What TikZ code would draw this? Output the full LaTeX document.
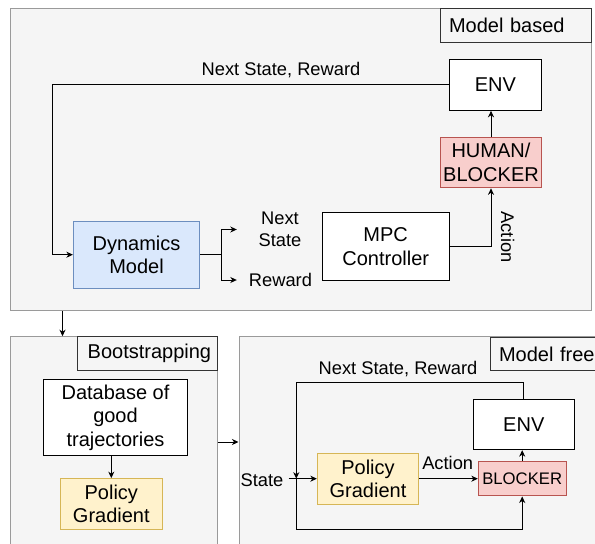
\documentclass[tikz,border=0pt]{standalone}
\usepackage{fontspec}
\setmainfont{Liberation Sans}
\usetikzlibrary{arrows.meta}

\definecolor{panelfill}{HTML}{F5F5F5}
\definecolor{panelline}{HTML}{9A9A9A}
\definecolor{tagline}{HTML}{333333}
\definecolor{bluefill}{HTML}{DAE8FC}
\definecolor{blueline}{HTML}{6C8EBF}
\definecolor{redfill}{HTML}{F8CECC}
\definecolor{redline}{HTML}{B85450}
\definecolor{yellowfill}{HTML}{FFF2CC}
\definecolor{yellowline}{HTML}{D6B656}

\begin{document}
\begin{tikzpicture}[x=1pt,y=-1pt,
  panel/.style={draw=panelline, fill=panelfill, line width=1pt, inner sep=0pt},
  tag/.style={draw=tagline, fill=panelfill, line width=1pt, inner ysep=0pt,
    align=left, font=\fontsize{20}{24}\selectfont},
  box/.style={draw=black, fill=white, line width=1pt, inner sep=0pt,
    align=center, font=\fontsize{20}{23.5}\selectfont},
  bluebox/.style={box, draw=blueline, fill=bluefill},
  redbox/.style={box, draw=redline, fill=redfill},
  yellowbox/.style={box, draw=yellowline, fill=yellowfill},
  lbl/.style={inner sep=0pt, align=center, font=\fontsize{18.3}{22}\selectfont},
  arr/.style={line width=1pt, -{Stealth[length=6.5pt,width=6pt,inset=2pt]}},
  ln/.style={line width=1pt}
]
\useasboundingbox (0,0) rectangle (595,544);
\clip (0,0) rectangle (595,544);

% ---------- panels ----------
\node[panel, minimum width=580.7pt, minimum height=302.2pt] (mb) at (300.65,159.6) {};
\node[panel, minimum width=206.7pt, minimum height=263.3pt] (bs) at (113.65,468.35) {};
\node[panel, minimum width=411pt, minimum height=263.3pt] (mf) at (444.5,468.35) {};

\node[tag, minimum width=150.3pt, minimum height=34.3pt, inner xsep=8.3pt, text width=133.7pt]
  (mbtag) at (515.85,25.2) {Model based};
\node[tag, minimum width=139.3pt, minimum height=34pt, inner xsep=10pt, text width=119.3pt]
  (bstag) at (147.35,353.7) {Bootstrapping};
\node[tag, minimum width=130pt, minimum height=33.7pt, inner xsep=9pt, text width=112pt]
  (mftag) at (555,353.85) {Model free};

% ---------- model based ----------
\node[box, minimum width=92.8pt, minimum height=51pt] (env1) at (495.4,84.8) {ENV};
\node[redbox, minimum width=101.5pt, minimum height=50.6pt] (human) at (491,162.5) {HUMAN/\\BLOCKER};
\node[box, minimum width=126.6pt, minimum height=67.3pt] (mpc) at (385.7,246.4) {MPC\\Controller};
\node[bluebox, minimum width=126.2pt, minimum height=67.3pt] (dyn) at (136.5,254.7) {Dynamics\\Model};

\node[lbl, minimum width=86pt] (nsl) at (280,229.5) {Next\\State};
\node[lbl, minimum width=87pt] (rwl) at (280.5,280) {Reward};
\node[lbl] (fblbl) at (281,70) {Next State, Reward};
\node[lbl, rotate=-90] (actlbl) at (507.6,237) {Action};

\coordinate (fbx) at (52.1,0);
\coordinate (fork) at (221,0);

\draw[arr] (env1.west) -| (fbx |- dyn.west) -- (dyn.west);
\draw[ln] (dyn.east) -- (fork |- dyn.east);
\draw[arr] (fork |- dyn.east) |- (nsl.west);
\draw[arr] (fork |- dyn.east) |- (rwl.west);
\draw[arr] (mpc.east) -| (human.south);
\draw[arr] (human.north) -- (human.north |- env1.south);

% ---------- links between panels ----------
\coordinate (downx) at (62.5,0);
\coordinate (across) at (0,442);
\draw[arr] (mb.south -| downx) -- (bs.north -| downx);
\draw[arr] (bs.east |- across) -- (mf.west |- across);

% ---------- bootstrapping ----------
\node[box, minimum width=143.6pt, minimum height=76.3pt] (db) at (115.5,417.5)
  {Database of\\good\\trajectories};
\node[yellowbox, minimum width=102pt, minimum height=50.7pt] (pg1) at (111.3,504)
  {Policy\\Gradient};
\draw[arr] (pg1.north |- db.south) -- (pg1.north);

% ---------- model free ----------
\node[box, minimum width=101pt, minimum height=50.3pt] (env2) at (523.8,424.5) {ENV};
\node[redbox, minimum width=87.7pt, minimum height=34.3pt,
  font=\fontsize{16.7}{20}\selectfont] (blk) at (522.2,478.8) {BLOCKER};
\node[yellowbox, minimum width=101.3pt, minimum height=50.7pt] (pg2) at (368,478.7)
  {Policy\\Gradient};
\node[lbl, minimum width=52.6pt] (state) at (262,480) {State};
\node[lbl] (act2) at (447.7,463) {Action};
\node[lbl] (nsr2) at (398,369.5) {Next State, Reward};

\coordinate (top2) at (0,382.3);
\coordinate (jn) at (296.3,478.7);
\coordinate (bot2) at (0,529.3);

\draw[arr] (env2.north) -- (env2.north |- top2) -| (jn);
\draw[arr] (state.east |- pg2.west) -- (pg2.west);
\draw[arr] (jn) -- (jn |- bot2) -| (blk.south);
\draw[arr] (pg2.east) -- (pg2.east -| blk.west);
\draw[arr] (blk.north) -- (blk.north |- env2.south);
\end{tikzpicture}
\end{document}
